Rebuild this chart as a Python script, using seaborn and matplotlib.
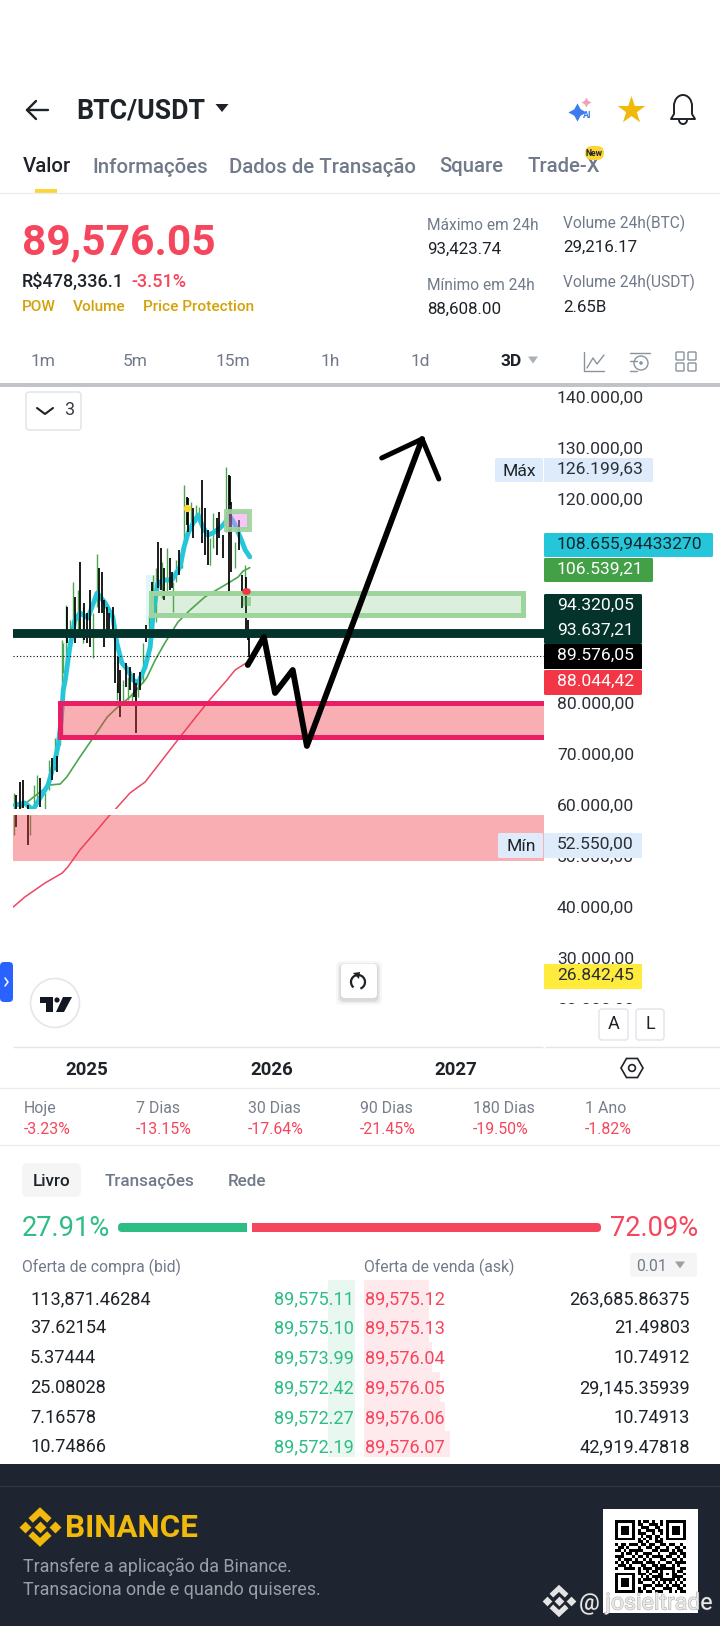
import numpy as np
import pandas as pd
import seaborn as sns
import matplotlib
matplotlib.use("Agg")
import matplotlib.pyplot as plt
import matplotlib.patheffects as pe
from matplotlib.patches import Rectangle, FancyBboxPatch, Circle, Polygon, RegularPolygon, Arc

# candles: days since 2025-01-01, low, high, 1 = green / 0 = black
candle_day = [-144, -140, -133, -127, -117, -113, -105, -99, -93, -83, -75, -69, -63, -59,
              -53, -49, -47, -42, -40, -34, -28, -24, -18, -14, -8, -6, 0, 6, 12, 20, 24, 30,
              34, 40, 44, 51, 55, 59, 61, 65, 71, 77, 81, 85, 89, 93, 97, 101, 105, 111, 117,
              123, 129, 131, 136, 140, 146, 148, 152, 158, 164, 168, 170, 176, 182, 188, 192,
              198, 200, 206, 210, 216, 222, 227, 233, 239, 243, 249, 257, 261, 269, 275, 281,
              282, 285, 293, 301, 307, 313, 315, 318, 320]
candle_low = [54117, 55686, 58039, 59412, 52156, 54117, 59608, 60980, 59608, 59020, 62941, 64902, 66863, 66471,
              71764, 73725, 85882, 86470, 91765, 92353, 92941, 91765, 94314, 92941, 91765, 92353, 91765, 90980, 88823, 98824, 97647, 97647,
              90980, 93725, 92941, 92941, 83922, 80588, 81960, 77255, 79988, 83137, 80588, 82549, 80196, 81177, 74118, 81177, 82549, 83922, 91961,
              91373, 98627, 100588, 95882, 102549, 102157, 100588, 100196, 101765, 102157, 102549, 97843, 103725, 105098, 106471, 110392,
              114902, 113529, 114314, 112353, 115490, 115490, 111373, 109020, 107059, 107059, 110392, 109020, 112353, 108431, 113529, 101765,
              118824, 105686, 106471, 110000, 98627, 100196, 94314, 92353, 89020]
candle_high = [62353, 61961, 64510, 64902, 60000, 58039, 63921, 65882, 65294, 62353, 68823, 69215, 73137, 69608,
               79608, 92353, 91765, 99216, 98824, 96274, 103725, 100784, 102157, 107647, 98824, 99608, 97647, 102157, 97647, 109216, 106471, 105686,
               100196, 98824, 97647, 98824, 94314, 83922, 89020, 86470, 84510, 87843, 85098, 87059, 81961, 85882, 83922, 84510, 86078, 91765, 95294,
               97255, 103725, 105098, 106471, 111569, 110392, 107647, 106471, 110392, 108431, 105686, 103725, 108039, 110000, 109020, 122745,
               120392, 120196, 119412, 118235, 118824, 118431, 123725, 118235, 113921, 112353, 117255, 116275, 117451, 112941, 126199, 124706,
               124510, 119412, 111569, 115882, 105098, 107059, 104706, 96274, 92941]
candle_up = [1, 0, 0, 0, 0, 1, 1, 1, 0, 1, 1, 0, 1, 0,
             1, 1, 1, 1, 0, 1, 1, 0, 1, 0, 1, 0, 0, 0, 1, 1, 0, 0,
             0, 0, 0, 0, 0, 1, 0, 0, 1, 0, 1, 0, 1, 0, 0, 1, 0, 1, 0,
             1, 0, 1, 1, 0, 0, 1, 0, 1, 0, 0, 1, 1, 0, 1, 1,
             0, 0, 1, 0, 1, 1, 0, 0, 0, 1, 1, 0, 0, 0, 1, 0,
             0, 0, 1, 0, 0, 1, 0, 0, 0]

ema_fast_day = [-142, -123, -107, -93, -77, -63, -57, -51, -47, -43, -34, -24, -14, 2, 20, 36, 51, 59, 69, 81, 91,
                101, 115, 125, 131, 140, 154, 168, 184, 192, 200, 210, 220, 229, 239, 249, 263, 273, 281, 291, 303, 313, 322]
ema_fast = [60000, 60392, 59020, 61373, 63921, 68823, 71765, 76667, 82549, 84510, 90980, 96275, 97647, 96667, 101569, 99608, 96863, 91765, 87843, 86471, 84510,
            83922, 87059, 90980, 97647, 103530, 104118, 104118, 106667, 110588, 113333, 115294, 116863, 114510, 112941, 113333, 114314, 115294, 116863, 115294, 112549, 110000, 108655]
ema_mid_day = [-133, -113, -93, -73, -53, -40, -14, 16, 40, 61, 85, 115, 119, 135, 154, 180, 204, 233, 263, 283, 299, 309, 322]
ema_mid = [59412, 60980, 62549, 63922, 64118, 65490, 69412, 73725, 77255, 79216, 81177, 84510, 85098, 88431, 91765, 95882, 98235, 100784, 102549, 103725, 104706, 105882, 106539]
ema_slow_day = [-146, -123, -83, -49, -38, -14, 20, 45, 55, 85, 115, 138, 184, 239, 277, 293, 318]
ema_slow = [40000, 41961, 44706, 46667, 47843, 51176, 55098, 58039, 59020, 62353, 64510, 67451, 73333, 80196, 84510, 86470, 88044]

# hand drawn forecast
drawn_day = [318, 350, 372, 407, 435, 663]
drawn_price = [87451, 92941, 81961, 86471, 71569, 131765]
head_day = [583, 663, 696]
head_price = [128039, 131765, 123922]

price_ticks = list(range(20000, 150000, 10000))
hidden_ticks = [90000, 100000, 110000]  # sit behind the badges on the screen
year_ticks = [0, 365, 730]
year_labels = ["2025", "2026", "2027"]
last_price = 89576.05
line_price = 93637.21

change_names = ["Hoje", "7 Dias", "30 Dias", "90 Dias", "180 Dias", "1 Ano"]
change_values = ["-3.23%", "-13.15%", "-17.64%", "-21.45%", "-19.50%", "-1.82%"]

bid_qty = ["113,871.46284", "37.62154", "5.37444", "25.08028", "7.16578", "10.74866"]
bid_price = ["89,575.11", "89,575.10", "89,573.99", "89,572.42", "89,572.27", "89,572.19"]
ask_price = ["89,575.12", "89,575.13", "89,576.04", "89,576.05", "89,576.06", "89,576.07"]
ask_qty = ["263,685.86375", "21.49803", "10.74912", "29,145.35939", "10.74913", "42,919.47818"]
ask_depth = [65, 65, 68, 76, 81, 86]
bid_share, ask_share = 27.91, 72.09

qr_rows = ["1111111010110100101111111", "1000001011001110101000001", "1011101001110011001011101",
           "1011101010011101101011101", "1011101011100100101011101", "1000001001011011001000001",
           "1111111010101010101111111", "0000000011010011100000000", "1011011101101100110110010",
           "0110100010011011001001101", "1101011111000110111010110", "0010110100111001000111011",
           "1110001011010111101100101", "0101110100101000110011010", "1010101111011101001101111",
           "0111010001100110110010100", "1001111010111011111110011", "0000000010010110100010110",
           "1111111011101001101011001", "1000001001010111100011110", "1011101010111010111110101",
           "1011101011000101010101010", "1011101000111011101011101", "1000001010100100011100110",
           "1111111011011011100101011"]

sns.set_theme(style="white")
plt.rcParams["font.family"] = ["Roboto", "DejaVu Sans"]

fig = plt.figure(figsize=(7.2, 16.26), dpi=100)
W, H = 720, 1626

# chart axes, left/right/top/bottom in screen pixels
ax = fig.add_axes([13 / W, 1 - 1047 / H, (544 - 13) / W, (1047 - 387) / H])
ax.set_xlim(-146.4, 904.1)
ax.set_ylim(12548, 141961)
sns.despine(ax=ax, left=True, bottom=True)

df = pd.DataFrame({"day": candle_day, "low": candle_low, "high": candle_high, "up": candle_up})
ups = df[df["up"] == 1]
downs = df[df["up"] == 0]
ax.vlines(ups["day"], ups["low"], ups["high"], color="#4ca64f", lw=1.0, zorder=1.5)
ax.vlines(downs["day"], downs["low"], downs["high"], color="black", lw=1.25, zorder=2.5)


def ma_line(days, prices, color, lw, z):
    sns.lineplot(x=days, y=prices, ax=ax, color=color, lw=lw, zorder=z, sort=False, estimator=None,
                 legend=False, solid_capstyle="round", solid_joinstyle="round")


ma_line(ema_mid_day, ema_mid, "#4ca64f", 1.2, 2)
ma_line(ema_fast_day, ema_fast, "#26c6da", 3.5, 2)
ma_line(ema_slow_day, ema_slow, "#ef4565", 1.1, 2)

# zones
ax.add_patch(Rectangle((117, 95000), 18, 10000, fc="#e0f7fa", lw=0, zorder=0.5))
ax.axhspan(58039, 59118, color="white", lw=0, zorder=3)
ax.axhspan(49020, 58039, color="#f23645", alpha=0.4, lw=0, zorder=3)
ax.add_patch(Rectangle((-54, 73235), 1100, 79902 - 73235, fc="#f23645", alpha=0.4, lw=0, zorder=3))
ax.add_patch(Rectangle((-54, 73235), 1100, 79902 - 73235, fc="none", ec="#e91e63", lw=3.6, zorder=3))
ax.add_patch(Rectangle((127.6, 97157), 734, 101665 - 97157, fc="#4caf50", alpha=0.2, lw=0, zorder=3))
ax.add_patch(Rectangle((127.6, 97157), 734, 101665 - 97157, fc="none", ec="#9cd49c", lw=3.6, zorder=3))
ax.add_patch(Rectangle((274, 114098), 46, 3530, fc="#ee82ee", alpha=0.45, lw=0, zorder=3))
ax.add_patch(Rectangle((274, 114098), 46, 3530, fc="none", ec="#9cd49c", lw=3.6, zorder=3, alpha=0.9))
ax.add_patch(Rectangle((309, 99000), 16, 1800, fc="#4caf50", alpha=0.45, lw=0, zorder=3))
ax.scatter([198], [118300], s=28, color="#fdd835", lw=0, zorder=3)
ax.scatter([312, 316], [102000, 102000], s=22, color="#f23645", lw=0, zorder=3)

ax.axhline(line_price, color="#04332b", lw=6.4, zorder=4)
ax.axhline(last_price - 400, color="black", lw=0.8, ls=(0, (1, 2)), zorder=4)

sns.lineplot(x=drawn_day, y=drawn_price, ax=ax, color="black", lw=4.2, sort=False, estimator=None,
             zorder=6, solid_capstyle="round", solid_joinstyle="round", clip_on=False)
sns.lineplot(x=head_day, y=head_price, ax=ax, color="black", lw=3.6, sort=False, estimator=None,
             zorder=6, solid_capstyle="round", solid_joinstyle="round", clip_on=False)

ax.yaxis.tick_right()
ax.set_yticks(price_ticks)
ax.set_yticklabels(["" if p in hidden_ticks else f"{p:,.2f}".replace(",", "X").replace(".", ",").replace("X", ".")
                    for p in price_ticks], fontsize=12.6, color="#2b2f36")
ax.set_xticks(year_ticks)
ax.set_xticklabels(year_labels, fontsize=13.4, fontweight="bold", color="#1e2329")
ax.tick_params(axis="y", length=0, pad=9.4)
ax.tick_params(axis="x", length=0, pad=10)
ax.set_xlabel("")
ax.set_ylabel("")

# app screen drawn on top, in pixel coordinates
ui = fig.add_axes([0, 0, 1, 1], zorder=5)
ui.set_xlim(0, W)
ui.set_ylim(H, 0)
ui.axis("off")
ui.patch.set_alpha(0)

GRAY = "#707a8a"
RED = "#f6465d"
GREEN = "#2ebd85"
GOLD = "#d4a106"


def txt(x, y, s, size=10, color="#1e2329", weight="normal", ha="left", **kw):
    return ui.text(x, y + 1, s, fontsize=size, color=color, fontweight=weight, ha=ha, va="center", **kw)


def box(x0, y0, x1, y1, fc, ec="none", r=2, lw=1, **kw):
    p = FancyBboxPatch((x0, y0), x1 - x0, y1 - y0, boxstyle=f"round,pad=0,rounding_size={r}",
                       fc=fc, ec=ec, lw=lw, **kw)
    ui.add_patch(p)
    return p


def hline(y, x0=0, x1=W, color="#eaecef", lw=1.0):
    ui.plot([x0, x1], [y, y], color=color, lw=lw, solid_capstyle="butt")


def tri(x, y, w, h, color):
    ui.add_patch(Polygon([(x - w / 2, y - h / 2), (x + w / 2, y - h / 2), (x, y + h / 2)], fc=color, lw=0))


# header
ui.plot([27, 48], [110, 110], color="#1e2329", lw=1.7)
ui.plot([36, 27, 36], [101, 110, 119], color="#1e2329", lw=1.7)
txt(76, 110, "BTC/USDT", 19.3, "#1e2329", "bold")
tri(222, 108, 13, 8, "#1e2329")
ui.scatter([577], [112], marker=(4, 1, 0), s=170, color="#3f7bf0", lw=0)
ui.scatter([586], [102], marker=(4, 1, 0), s=50, color="#f2a0b4", lw=0)
txt(587, 114, "AI", 6.5, "#3f7bf0", "bold", ha="center")
ui.scatter([631], [110], marker="*", s=440, color="#f0b90b", lw=0)
ui.add_patch(Arc((683, 106), 18, 22, theta1=180, theta2=360, ec="#1e2329", lw=1.4))
ui.plot([674, 674, 671, 695, 692, 692], [106, 114, 119, 119, 114, 106], color="#1e2329", lw=1.4)
ui.add_patch(Arc((683, 120), 8, 8, theta1=0, theta2=180, ec="#1e2329", lw=1.4))

for x, s in zip([92, 229, 439, 527], ["Informações", "Dados de Transação", "Square", "Trade-X"]):
    txt(x, 166, s, 14.7, GRAY, "medium")
txt(23, 166, "Valor", 14.7, "#1e2329", "medium", clip_on=True)
ui.add_patch(Rectangle((70, 150), 6, 30, fc="white", lw=0, zorder=3))
box(585, 146, 604, 160, "#fcd535", r=7, zorder=4)
txt(594.5, 152, "New", 6.2, "#1e2329", "bold", ha="center", zorder=5)
ui.add_patch(Rectangle((35, 189), 22, 4, fc="#fcd535", lw=0))
hline(193.5)

txt(22, 242, "89,576.05", 30.6, RED, "bold")
txt(22, 281, "R$478,336.1", 13, "#1e2329", "medium")
txt(131, 281, "-3.51%", 13, RED, "medium")
for x, s in zip([22, 73, 143], ["POW", "Volume", "Price Protection"]):
    txt(x, 306, s, 11.1, GOLD, "medium")
txt(427, 224, "Máximo em 24h", 11.2, GRAY)
txt(427, 248, "93,423.74", 12.2)
txt(427, 284, "Mínimo em 24h", 11.2, GRAY)
txt(427, 308, "88,608.00", 12.2)
txt(563, 222, "Volume 24h(BTC)", 11.2, GRAY)
txt(563, 246, "29,216.17", 12.2)
txt(563, 281, "Volume 24h(USDT)", 11.2, GRAY)
txt(563, 306, "2.65B", 12.2)

for x, s in zip([43, 135, 233, 330, 420], ["1m", "5m", "15m", "1h", "1d"]):
    txt(x, 361, s, 12.5, GRAY, ha="center")
txt(511, 361, "3D", 12.5, "#1e2329", "bold", ha="center")
tri(533, 360, 10, 7, "#aab0b8")
ui.plot([584, 584, 604], [352, 371, 371], color="#8a929e", lw=1.0)
ui.plot([587, 593, 597, 604], [368, 358, 364, 355], color="#8a929e", lw=1.0)
ui.plot([630, 650], [353, 353], color="#8a929e", lw=1.0)
ui.plot([630, 637], [361, 361], color="#8a929e", lw=1.0)
ui.plot([630, 637], [371, 371], color="#8a929e", lw=1.0)
ui.add_patch(Circle((641, 363), 7, fc="none", ec="#8a929e", lw=1.0))
ui.add_patch(Circle((641, 363), 1.8, fc="#8a929e", lw=0))
for bx in [676, 688]:
    for by in [352, 363]:
        box(bx, by, bx + 8, by + 8, "none", "#8a929e", r=1, lw=1.0)
ui.add_patch(Rectangle((0, 383), W, 4, fc="#c0c4c8", lw=0))

# chart buttons and price badges
box(26, 392, 81, 430, "white", "#dfe2e6", r=3)
ui.plot([37, 45, 53], [408, 414, 408], color="#1e2329", lw=1.5)
txt(69, 409, "3", 13, "#3a3f47", ha="center")

BADGE = 12.6
box(495, 458, 543, 482, "#deebfa", r=1.5)
txt(519, 470, "Máx", BADGE, "#1e2329", ha="center")
box(544, 458, 653, 482, "#deebfa", r=1.5)
txt(557, 468, "126.199,63", BADGE, "#2b2f36")
box(544, 533, 713, 557, "#26c6da", r=1.5)
txt(557, 543, "108.655,94433270", BADGE, "#12262b")
box(544, 558, 653, 582, "#43a047", r=1.5)
txt(557, 568, "106.539,21", BADGE, "white")
box(544, 594, 642, 644, "#04332b", r=1.5)
txt(557, 604, "94.320,05", BADGE, "white")
txt(557, 629, "93.637,21", BADGE, "white")
box(544, 644, 642, 669, "black", r=0.5)
txt(557, 654, "89.576,05", BADGE, "white")
box(544, 670, 642, 695, "#f23645", r=1.5)
txt(557, 680, "88.044,42", BADGE, "white")
box(498, 833, 543, 858, "#deebfa", r=1.5)
txt(521, 845, "Mín", BADGE, "#1e2329", ha="center")
box(544, 833, 642, 858, "#deebfa", r=1.5)
txt(557, 843, "52.550,00", BADGE, "#2b2f36")
ui.add_patch(Rectangle((554, 1003.5), 100, 14, fc="white", lw=0))
box(544, 964, 642, 989, "#ffeb3b", r=0.5)
txt(557, 974, "26.842,45", BADGE, "#2b2f36")

box(0, 962, 13, 1002, "#2962ff", r=4)
ui.plot([5, 8, 5], [978, 982, 986], color="white", lw=1.1)
ui.add_patch(Circle((55, 1003), 24.5, fc="white", ec="#e4e6e9", lw=1.2))
ui.add_patch(Polygon([(40, 997), (53, 997), (53, 1012), (46, 1012), (46, 1003), (40, 1003)], fc="#131722", lw=0))
ui.add_patch(Circle((57, 1000), 2.6, fc="#131722", lw=0))
ui.add_patch(Polygon([(63, 997), (72, 997), (64, 1012), (56, 1012)], fc="#131722", lw=0))
for grow, alpha in zip([5, 3, 1.5], [0.03, 0.05, 0.07]):
    box(341 - grow, 966 - grow, 377 + grow, 1000 + grow, "#000000", r=5, alpha=alpha)
box(341, 964, 377, 998, "white", r=4)
ui.add_patch(Arc((358, 982), 14, 14, theta1=-230, theta2=70, ec="#1e2329", lw=1.6))
ui.add_patch(Polygon([(353, 973), (360, 972), (359, 979)], fc="#1e2329", lw=0))
box(599, 1009, 628, 1040, "white", "#e0e3e7", r=3)
txt(613.5, 1023, "A", 13, "#1e2329", ha="center")
box(636, 1009, 664, 1040, "white", "#e0e3e7", r=3)
txt(650, 1023, "L", 13, "#1e2329", ha="center")

hline(1047, 13, 543, "#e3e5e8", 1.0)
hline(1047, 545, W, "#e3e5e8", 1.0)
ui.add_patch(RegularPolygon((632, 1068), 6, radius=11, orientation=np.pi / 6, fc="none", ec="#1e2329", lw=1.2))
ui.add_patch(Circle((632, 1068), 3.4, fc="none", ec="#1e2329", lw=1.2))
hline(1088)
for x, name, val in zip([24, 136, 248, 360, 473, 585], change_names, change_values):
    txt(x, 1107, name, 11.4, "#777e8a")
    txt(x, 1128, val, 11.4, RED)
hline(1145)

# order book
box(22, 1163, 81, 1197, "#f5f5f5", r=6)
txt(52, 1180, "Livro", 12.3, "#1e2329", "medium", ha="center")
txt(105, 1180, "Transações", 12.3, GRAY, "medium")
ui.add_patch(Rectangle((195, 1165), 8, 30, fc="white", lw=0, zorder=3))
txt(228, 1180, "Rede", 12.3, GRAY, "medium")

txt(22, 1227, f"{bid_share:.2f}%", 19.6, GREEN)
txt(698, 1227, f"{ask_share:.2f}%", 19.6, RED, ha="right")
box(118, 1223, 251, 1232, GREEN, r=4)
ui.add_patch(Rectangle((240, 1223), 7, 9, fc=GREEN, lw=0))
ui.add_patch(Rectangle((247, 1223), 5, 9, fc="white", lw=0))
box(252, 1223, 601, 1232, RED, r=4)
ui.add_patch(Rectangle((252, 1223), 8, 9, fc=RED, lw=0))

txt(22, 1266, "Oferta de compra (bid)", 11.3, GRAY)
txt(364, 1266, "Oferta de venda (ask)", 11.3, GRAY)
box(630, 1253, 697, 1277, "#f5f5f5", r=3)
txt(636, 1265, "0.01", 11.3, GRAY)
tri(680, 1265, 10, 7, "#9aa0a8")

row_y = [1298, 1327, 1357, 1387, 1417, 1446]
ui.add_patch(Rectangle((328, 1280), 27, 177, fc="#e8f7f0", lw=0))
row_edges = [1280, 1313, 1342, 1372, 1402, 1431, 1457]
for i in range(6):
    ui.add_patch(Rectangle((364, row_edges[i]), ask_depth[i], row_edges[i + 1] - row_edges[i], fc="#feeaed", lw=0))
for y, bq, bp, ap, aq in zip(row_y, bid_qty, bid_price, ask_price, ask_qty):
    txt(30, y, bq, 13.1, "#1e2329")
    txt(354, y, bp, 13.1, GREEN, ha="right")
    txt(365, y, ap, 13.1, RED)
    txt(690, y, aq, 13.1, "#1e2329", ha="right")

# footer
ui.add_patch(Rectangle((0, 1464), W, 162, fc="#1e2530", lw=0))
hline(1486, color="#2e3641")


def binance_mark(cx, cy, s, color):
    # centre and side diamonds, chevrons above and below
    for dx in [-1.35, 0, 1.35]:
        ui.scatter([cx + dx * s], [cy], marker="D", s=(s * 0.55) ** 2, color=color, lw=0)
    lw = s * 0.42
    ui.plot([cx - s * 0.85, cx, cx + s * 0.85], [cy - s * 0.6, cy - s * 1.4, cy - s * 0.6],
            color=color, lw=lw, solid_joinstyle="miter", solid_capstyle="butt")
    ui.plot([cx - s * 0.85, cx, cx + s * 0.85], [cy + s * 0.6, cy + s * 1.4, cy + s * 0.6],
            color=color, lw=lw, solid_joinstyle="miter", solid_capstyle="butt")


binance_mark(40, 1527, 11, "#f0b90b")
txt(65, 1527, "BINANCE", 22.6, "#f0b90b", "bold")
txt(23, 1566, "Transfere a aplicação da Binance.", 12.9, "#9aa0a8")
txt(23, 1589, "Transaciona onde e quando quiseres.", 12.9, "#9aa0a8")

ui.add_patch(Rectangle((603, 1509), 95, 104, fc="white", lw=0))
qr = np.array([[1 - int(c) for c in row] for row in qr_rows])
ui.imshow(qr, cmap="gray", extent=(615, 686, 1593, 1521), interpolation="nearest", aspect="auto", vmin=0, vmax=1, zorder=3)
ui.set_xlim(0, W)
ui.set_ylim(H, 0)

binance_mark(559, 1601, 9, "#e4e4e4")
t = txt(579, 1602, "@ josieltrade", 16.6, "#e8e8e8", zorder=6)
t.set_path_effects([pe.withStroke(linewidth=0.8, foreground="#666666", alpha=0.5)])

plt.savefig("out.png", dpi=100)
